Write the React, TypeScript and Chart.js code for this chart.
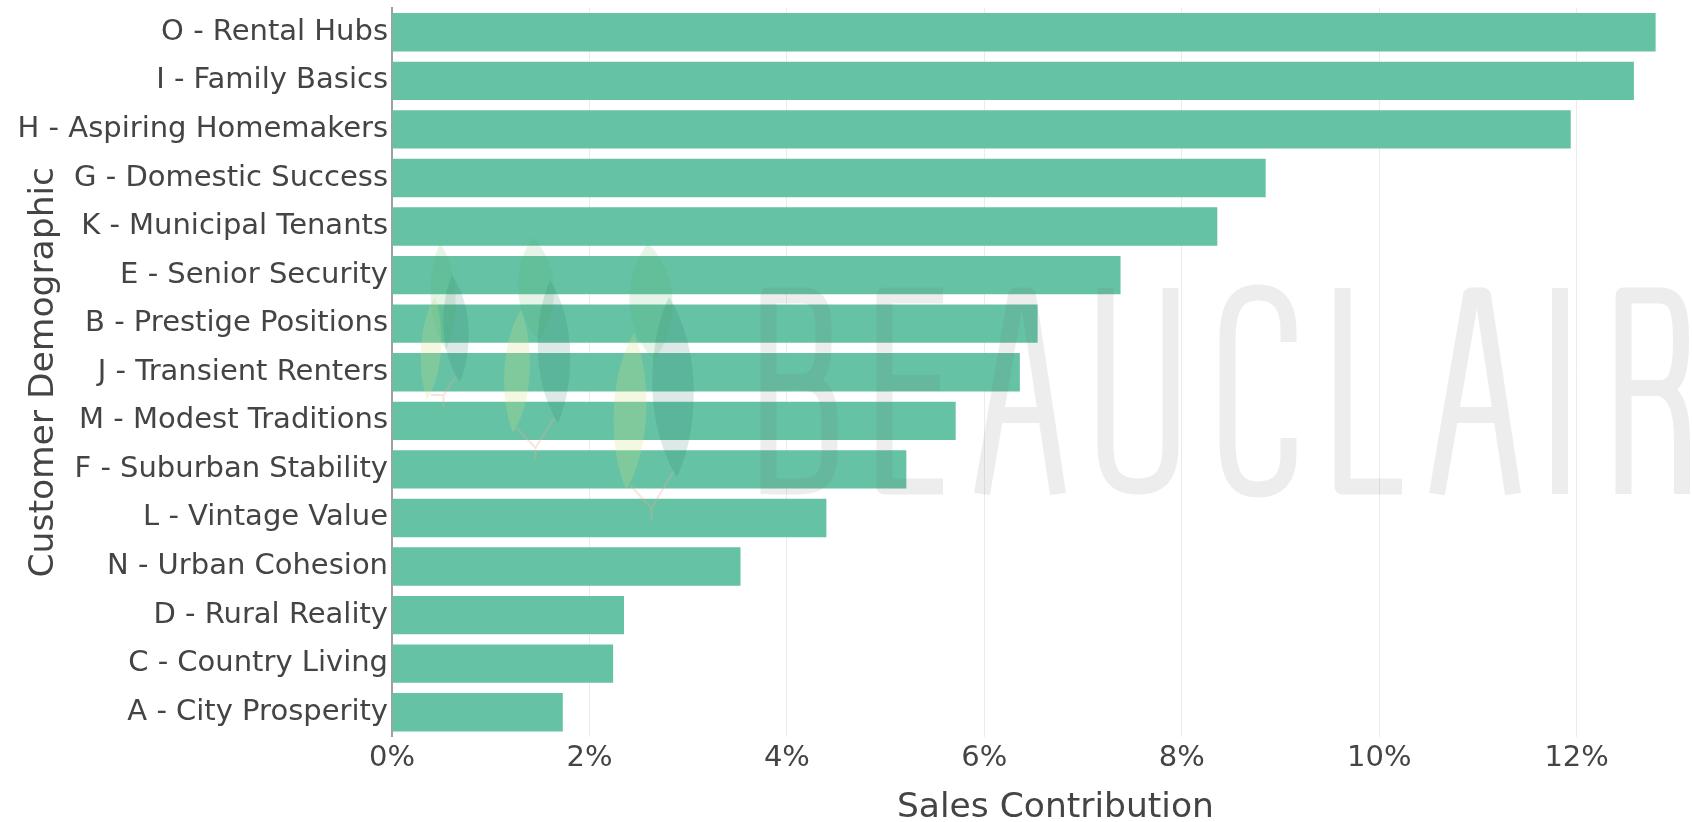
import React, { useEffect, useRef } from "react";
import { Chart, registerables } from "chart.js";

Chart.register(...registerables);

const categories: string[] = [
  "O - Rental Hubs",
  "I - Family Basics",
  "H - Aspiring Homemakers",
  "G - Domestic Success",
  "K - Municipal Tenants",
  "E - Senior Security",
  "B - Prestige Positions",
  "J - Transient Renters",
  "M - Modest Traditions",
  "F - Suburban Stability",
  "L - Vintage Value",
  "N - Urban Cohesion",
  "D - Rural Reality",
  "C - Country Living",
  "A - City Prosperity",
];

const salesContribution: number[] = [
  12.8, 12.58, 11.94, 8.85, 8.36, 7.38, 6.54, 6.36, 5.71, 5.21, 4.4, 3.53, 2.35, 2.24, 1.73,
];

const xAxisMax = 13.44;
const xTickStep = 2;
const xTickSuffix = "%";
const xTitle = "Sales Contribution";
const yTitle = "Customer Demographic";

const FONT = "'DejaVu Sans', Verdana, sans-serif";
const TEXT = "#444444";
const BAR = "#66c2a5";

function leaf(ctx: CanvasRenderingContext2D, cx: number, yTop: number, yBot: number, hw: number, tilt: number, color: string) {
  const mid = (yTop + yBot) / 2;
  ctx.beginPath();
  ctx.moveTo(cx + tilt, yTop);
  ctx.bezierCurveTo(cx + hw * 1.3, mid - (yBot - yTop) * 0.2, cx + hw * 1.1, mid + (yBot - yTop) * 0.25, cx - tilt, yBot);
  ctx.bezierCurveTo(cx - hw * 1.3, mid + (yBot - yTop) * 0.2, cx - hw * 1.1, mid - (yBot - yTop) * 0.25, cx + tilt, yTop);
  ctx.closePath();
  ctx.fillStyle = color;
  ctx.fill();
}

const watermarkPlugin = {
  id: "watermark",
  afterDatasetsDraw(chart: any) {
    const ctx: CanvasRenderingContext2D = chart.ctx;
    ctx.save();
    // leaves
    const groups = [
      { top: [443, 243, 350, 14], right: [456, 275, 382, 14], left: [431, 297, 400, 11], stem: 407 },
      { top: [536, 237, 340, 20], right: [554, 280, 423, 18], left: [517, 310, 433, 14], stem: 460 },
      { top: [651, 243, 360, 24], right: [673, 297, 477, 23], left: [630, 333, 490, 18], stem: 520 },
    ];
    for (const g of groups) {
      leaf(ctx, g.left[0], g.left[1], g.left[2], g.left[3], 4, "rgba(215,225,130,0.24)");
      leaf(ctx, g.top[0], g.top[1], g.top[2], g.top[3], -3, "rgba(80,175,95,0.14)");
      leaf(ctx, g.right[0], g.right[1], g.right[2], g.right[3], -4, "rgba(40,120,100,0.16)");
      ctx.beginPath();
      const bx = (g.left[0] + g.right[0]) / 2;
      ctx.moveTo(g.left[0], g.left[2] - 5);
      ctx.lineTo(bx, g.stem - 12);
      ctx.lineTo(g.right[0], g.right[2] - 5);
      ctx.moveTo(bx, g.stem - 12);
      ctx.lineTo(bx, g.stem);
      ctx.strokeStyle = "rgba(235,170,150,0.3)";
      ctx.lineWidth = 2;
      ctx.stroke();
    }

    // BEAUCLAIR lettering
    const yT = 295.5;
    const yB = 486.5;
    ctx.beginPath();
    // B
    ctx.moveTo(768.5, 494);
    ctx.lineTo(768.5, yT);
    ctx.lineTo(803, yT);
    ctx.bezierCurveTo(819, yT, 823.5, 308, 823.5, 330);
    ctx.lineTo(823.5, 345);
    ctx.bezierCurveTo(823.5, 372, 816, 382, 800, 382);
    ctx.lineTo(768.5, 382);
    ctx.moveTo(800, 382);
    ctx.bezierCurveTo(822, 382, 829.5, 394, 829.5, 420);
    ctx.lineTo(829.5, 452);
    ctx.bezierCurveTo(829.5, 478, 820, yB, 800, yB);
    ctx.lineTo(768.5, yB);
    // E
    ctx.moveTo(943, yT);
    ctx.lineTo(884.5, yT);
    ctx.lineTo(884.5, yB);
    ctx.lineTo(943, yB);
    ctx.moveTo(884.5, 383);
    ctx.lineTo(940, 383);
    // A (two)
    for (const dx of [0, 455]) {
      ctx.moveTo(982 + dx, 494);
      ctx.lineTo(1016 + dx, yT);
      ctx.lineTo(1028 + dx, yT);
      ctx.lineTo(1058 + dx, 494);
      ctx.moveTo(995.5 + dx, 415);
      ctx.lineTo(1046 + dx, 415);
    }
    // U
    ctx.moveTo(1105.5, 288);
    ctx.lineTo(1105.5, 445);
    ctx.bezierCurveTo(1105.5, 478, 1118, yB, 1138, yB);
    ctx.bezierCurveTo(1158, yB, 1170.5, 478, 1170.5, 445);
    ctx.lineTo(1170.5, 288);
    // C
    ctx.moveTo(1288.5, 342);
    ctx.lineTo(1288.5, 330);
    ctx.bezierCurveTo(1288.5, 305, 1278, 292.5, 1258, 292.5);
    ctx.bezierCurveTo(1238, 292.5, 1227.5, 305, 1227.5, 340);
    ctx.lineTo(1227.5, 440);
    ctx.bezierCurveTo(1227.5, 478, 1238, 489.5, 1258, 489.5);
    ctx.bezierCurveTo(1278, 489.5, 1288.5, 478, 1288.5, 455);
    ctx.lineTo(1288.5, 438);
    // L
    ctx.moveTo(1342.5, 288);
    ctx.lineTo(1342.5, yB);
    ctx.lineTo(1402, yB);
    // I
    ctx.moveTo(1560, 288);
    ctx.lineTo(1560, 494);
    // R
    ctx.moveTo(1623.5, 494);
    ctx.lineTo(1623.5, yT);
    ctx.lineTo(1660, yT);
    ctx.bezierCurveTo(1677, yT, 1681, 310, 1681, 340);
    ctx.bezierCurveTo(1681, 375, 1675, 388, 1660, 388);
    ctx.lineTo(1623.5, 388);
    ctx.moveTo(1660, 388);
    ctx.bezierCurveTo(1676, 392, 1682, 410, 1682, 440);
    ctx.lineTo(1682, 494);

    ctx.lineWidth = 16;
    ctx.lineJoin = "round";
    ctx.lineCap = "butt";
    ctx.strokeStyle = "rgba(100,100,100,0.115)";
    ctx.stroke();
    ctx.restore();
  },
};

export default function App() {
  const canvasRef = useRef<HTMLCanvasElement | null>(null);

  useEffect(() => {
    if (!canvasRef.current) return;
    const chart = new Chart(canvasRef.current, {
      type: "bar",
      data: {
        labels: categories,
        datasets: [
          {
            label: xTitle,
            data: salesContribution,
            backgroundColor: BAR,
            borderWidth: 0,
            barPercentage: 0.79,
            categoryPercentage: 1.0,
          },
        ],
      },
      options: {
        indexAxis: "y",
        responsive: false,
        animation: false,
        devicePixelRatio: 1,
        layout: { padding: { top: 8, left: 0, right: 1.2, bottom: 0 } },
        plugins: {
          legend: { display: false },
          tooltip: { enabled: false },
        },
        events: [],
        scales: {
          x: {
            type: "linear",
            min: 0,
            max: xAxisMax,
            grid: { color: "#ebebeb", lineWidth: 1, drawTicks: false },
            border: { display: false },
            ticks: {
              stepSize: xTickStep,
              includeBounds: false,
              padding: 5,
              color: TEXT,
              maxRotation: 0,
              autoSkip: false,
              font: { family: FONT, size: 29 },
              callback: (v: any) => `${v}${xTickSuffix}`,
            },
            title: {
              display: true,
              text: xTitle,
              color: TEXT,
              font: { family: FONT, size: 34.5, lineHeight: 1 },
              padding: { top: 0, bottom: -3 },
            },
            afterFit: (s: any) => {
              s.height = 85.5;
              s.paddingLeft = 0;
              s.paddingRight = 0;
            },
          },
          y: {
            type: "category",
            grid: { display: false, drawTicks: false },
            border: { display: true, color: "#a0a0a0", width: 2 },
            ticks: {
              padding: 4,
              color: TEXT,
              autoSkip: false,
              font: { family: FONT, size: 29 },
            },
            title: {
              display: true,
              text: yTitle,
              color: TEXT,
              font: { family: FONT, size: 34.5, lineHeight: 1.2 },
              padding: { top: 23, bottom: 0 },
            },
            afterFit: (s: any) => {
              s.width = 392;
              s.paddingTop = 0;
              s.paddingBottom = 0;
            },
          },
        },
      } as any,
      plugins: [watermarkPlugin],
    });
    return () => chart.destroy();
  }, []);

  return (
    <div
      style={{
        position: "fixed",
        left: 0,
        top: 0,
        width: 1692,
        height: 822,
        overflow: "hidden",
        background: "#ffffff",
      }}
    >
      <canvas ref={canvasRef} width={1720} height={822} style={{ display: "block", width: 1720, height: 822 }} />
    </div>
  );
}
